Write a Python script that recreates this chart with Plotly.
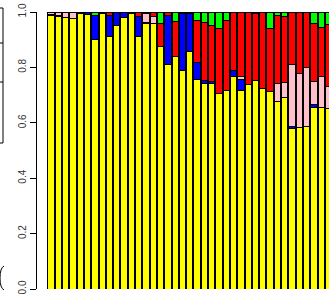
import plotly.graph_objects as go

# Stacked proportions per bar (bottom -> top): yellow, blue, pink, red, green
yellow = [0.987, 0.983, 0.981, 0.976, 0.996, 0.990, 0.899, 0.996, 0.910, 0.953,
          0.980, 0.996, 0.911, 0.958, 0.959, 0.877, 0.812, 0.839, 0.789, 0.856,
          0.758, 0.742, 0.743, 0.706, 0.718, 0.768, 0.716, 0.739, 0.753, 0.725,
          0.713, 0.676, 0.691, 0.578, 0.584, 0.585, 0.656, 0.656, 0.652]
blue = [0.003, 0.004, 0.000, 0.000, 0.004, 0.010, 0.090, 0.004, 0.078, 0.047,
        0.020, 0.004, 0.072, 0.004, 0.000, 0.000, 0.176, 0.000, 0.206, 0.139,
        0.061, 0.011, 0.005, 0.000, 0.000, 0.020, 0.039, 0.000, 0.000, 0.000,
        0.000, 0.000, 0.000, 0.007, 0.000, 0.000, 0.011, 0.000, 0.000]
pink = [0.010, 0.010, 0.019, 0.024, 0.000, 0.000, 0.000, 0.000, 0.000, 0.000,
        0.000, 0.000, 0.000, 0.031, 0.023, 0.000, 0.000, 0.000, 0.000, 0.000,
        0.000, 0.000, 0.000, 0.000, 0.000, 0.000, 0.013, 0.000, 0.000, 0.000,
        0.000, 0.065, 0.056, 0.225, 0.193, 0.215, 0.083, 0.111, 0.080]
red = [0.000, 0.003, 0.000, 0.000, 0.000, 0.000, 0.000, 0.000, 0.012, 0.000,
       0.000, 0.000, 0.017, 0.007, 0.018, 0.081, 0.012, 0.125, 0.000, 0.005,
       0.150, 0.208, 0.203, 0.234, 0.251, 0.212, 0.232, 0.261, 0.242, 0.275,
       0.227, 0.245, 0.235, 0.190, 0.223, 0.200, 0.208, 0.176, 0.224]
green = [0.000, 0.000, 0.000, 0.000, 0.000, 0.000, 0.011, 0.000, 0.000, 0.000,
         0.000, 0.000, 0.000, 0.000, 0.000, 0.042, 0.000, 0.036, 0.005, 0.000,
         0.031, 0.039, 0.049, 0.060, 0.031, 0.000, 0.000, 0.000, 0.005, 0.000,
         0.060, 0.014, 0.018, 0.000, 0.000, 0.000, 0.042, 0.057, 0.044]
bars = list(range(len(yellow)))

series = [("yellow", yellow, "#FFFF00"), ("blue", blue, "#0000FF"),
          ("pink", pink, "#FFC0CB"), ("red", red, "#FF0000"),
          ("green", green, "#00FF00")]
y_ticks = [0.0, 0.2, 0.4, 0.6, 0.8, 1.0]
y_tick_labels = ["0.0", "0.2", "0.4", "0.6", "0.8", "1.0"]

fig = go.Figure()
for name, vals, col in series:
    fig.add_trace(go.Bar(x=bars, y=vals, name=name, marker=dict(color=col, line=dict(color="black", width=1))))

W, H = 329, 294
L, T, B = 37, 12, 5
pw, ph = W - L, H - T - B

def px_x(p):
    return (p - L) / pw

def px_y(p):
    return (H - B - p) / ph

shapes = []
line = dict(color="black", width=1)
shapes.append(dict(type="line", xref="paper", yref="paper", x0=px_x(3), x1=px_x(3), y0=px_y(8), y1=px_y(143), line=line))
for yy in [8, 43, 82, 143]:
    shapes.append(dict(type="line", xref="paper", yref="paper", x0=px_x(0), x1=px_x(3), y0=px_y(yy), y1=px_y(yy), line=line))
shapes.append(dict(type="path", xref="paper", yref="paper",
                   path=f"M {px_x(4)},{px_y(266)} Q {px_x(0)},{px_y(268)} {px_x(0)},{px_y(278)} Q {px_x(0)},{px_y(288)} {px_x(4)},{px_y(290)}",
                   line=line))

fig.update_layout(
    barmode="stack",
    bargap=0.137,
    width=W, height=H,
    margin=dict(l=L, r=0, t=T, b=B, pad=0, autoexpand=False),
    plot_bgcolor="white", paper_bgcolor="white",
    showlegend=False,
    shapes=shapes,
    xaxis=dict(range=[-1.925, 38.075], autorange=False, showticklabels=False, showline=False,
               ticks="", showgrid=False, zeroline=False, fixedrange=True, automargin=False),
    yaxis=dict(range=[0, 1], autorange=False, tickvals=y_ticks, ticktext=y_tick_labels, tickangle=-90,
               ticks="outside", ticklen=6, tickcolor="black", showline=True, linecolor="black",
               linewidth=1, showgrid=False, zeroline=False, automargin=False,
               ticklabeloverflow="allow",
               tickfont=dict(family="Liberation Sans, Arial", size=10, color="#333333")),
)
fig.write_html("out.html", config={"displayModeBar": False},
               post_script="document.body.style.margin='0';document.body.style.overflow='hidden';")
